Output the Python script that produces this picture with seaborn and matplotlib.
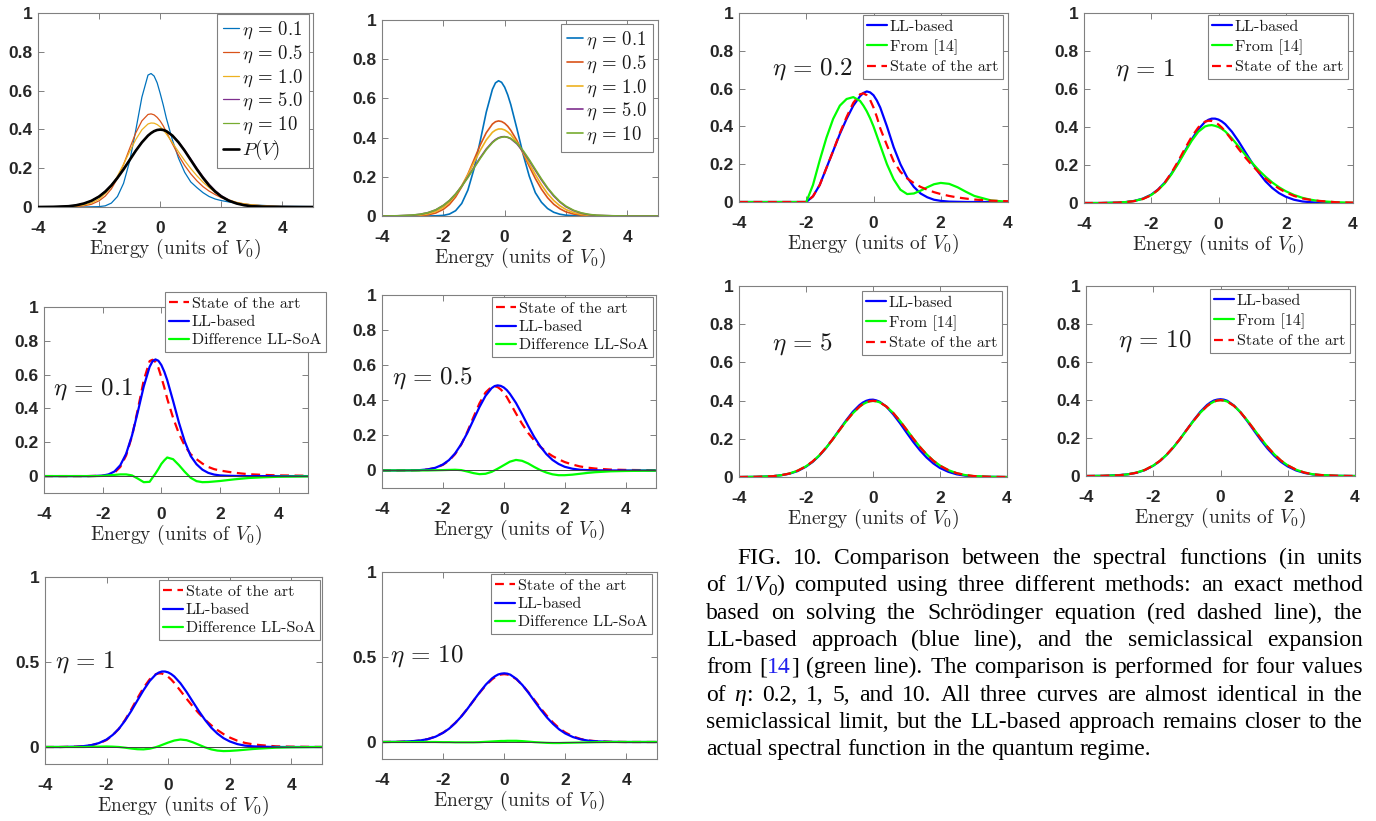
import re
import numpy as np
import pandas as pd
import matplotlib
matplotlib.use("Agg")
import matplotlib.pyplot as plt
import seaborn as sns

# ------------------------------------------------------------------ data
X = [-4.0, -3.5, -3.0, -2.75, -2.5, -2.25,
     -2.0, -1.8, -1.6, -1.4, -1.2, -1.0, -0.8, -0.6, -0.4,
     -0.3, -0.2, -0.1, 0.0, 0.1,
     0.2, 0.4, 0.6, 0.8, 1.0, 1.2, 1.4, 1.6, 1.8, 2.0,
     2.25, 2.5, 2.75, 3.0,
     3.5, 4.0, 4.5, 5.0]

PV = [0.000, 0.001, 0.004, 0.009, 0.018, 0.032,
      0.054, 0.079, 0.111, 0.150, 0.194, 0.242, 0.290, 0.333, 0.368,
      0.381, 0.391, 0.397, 0.399, 0.397,
      0.391, 0.368, 0.333, 0.290, 0.242, 0.194, 0.150, 0.111, 0.079, 0.054,
      0.032, 0.018, 0.009, 0.004,
      0.001, 0, 0, 0]

LL_01 = [0, 0, 0, 0, 0, 0.001,
         0.003, 0.010, 0.027, 0.064, 0.132, 0.240, 0.381, 0.530, 0.646,
         0.679, 0.690, 0.682, 0.657, 0.618,
         0.568, 0.445, 0.316, 0.204, 0.119, 0.070, 0.038, 0.019, 0.009, 0.004,
         0.002, 0.001, 0, 0,
         0, 0, 0, 0]
SOA_01 = [0, 0, 0, 0, 0, 0.001,
          0.002, 0.006, 0.020, 0.054, 0.122, 0.236, 0.396, 0.566, 0.680,
          0.688, 0.675, 0.640, 0.585, 0.525,
          0.458, 0.345, 0.251, 0.179, 0.129, 0.100, 0.074, 0.054, 0.041, 0.033,
          0.026, 0.020, 0.015, 0.011,
          0.007, 0.004, 0.003, 0.002]
DIFF_01 = [0, 0, 0, 0, 0, 0,
           0.001, 0.004, 0.007, 0.010, 0.010, 0.004, -0.015, -0.036, -0.034,
           -0.009, 0.015, 0.042, 0.072, 0.093,
           0.110, 0.100, 0.065, 0.025, -0.010, -0.030, -0.036, -0.035, -0.032, -0.029,
           -0.024, -0.019, -0.015, -0.011,
           -0.007, -0.004, -0.003, -0.002]

LL_05 = [0, 0, 0.001, 0.002, 0.006, 0.015,
         0.034, 0.059, 0.097, 0.149, 0.213, 0.287, 0.361, 0.425, 0.469,
         0.481, 0.485, 0.482, 0.473, 0.458,
         0.437, 0.385, 0.321, 0.254, 0.191, 0.137, 0.093, 0.060, 0.037, 0.021,
         0.010, 0.004, 0.002, 0.001,
         0, 0, 0, 0]
SOA_05 = [0, 0, 0.001, 0.002, 0.006, 0.014,
          0.032, 0.056, 0.093, 0.147, 0.219, 0.302, 0.382, 0.444, 0.477,
          0.480, 0.475, 0.462, 0.443, 0.418,
          0.387, 0.325, 0.266, 0.214, 0.171, 0.135, 0.105, 0.082, 0.064, 0.048,
          0.034, 0.023, 0.016, 0.011,
          0.005, 0.003, 0.002, 0.001]
DIFF_05 = [0, 0, 0, 0, 0, 0.001,
           0.002, 0.003, 0.004, 0.002, -0.006, -0.015, -0.021, -0.019, -0.008,
           0.001, 0.010, 0.020, 0.030, 0.040,
           0.050, 0.060, 0.055, 0.040, 0.020, 0.002, -0.012, -0.022, -0.027, -0.027,
           -0.024, -0.019, -0.014, -0.010,
           -0.005, -0.003, -0.002, -0.001]

LL_1 = [0, 0, 0.002, 0.005, 0.011, 0.023,
        0.044, 0.071, 0.107, 0.155, 0.211, 0.273, 0.334, 0.388, 0.427,
        0.438, 0.444, 0.444, 0.439, 0.429,
        0.415, 0.375, 0.324, 0.267, 0.211, 0.159, 0.114, 0.079, 0.052, 0.033,
        0.017, 0.008, 0.004, 0.002,
        0, 0, 0, 0]
SOA_1 = [0, 0, 0.002, 0.005, 0.010, 0.021,
         0.041, 0.069, 0.107, 0.159, 0.220, 0.286, 0.348, 0.398, 0.428,
         0.433, 0.432, 0.425, 0.413, 0.397,
         0.377, 0.331, 0.284, 0.239, 0.198, 0.161, 0.128, 0.100, 0.076, 0.056,
         0.037, 0.024, 0.016, 0.011,
         0.004, 0.002, 0.001, 0]
DIFF_1 = [0, 0, 0, 0, 0.001, 0.002,
          0.003, 0.002, 0.000, -0.004, -0.009, -0.013, -0.014, -0.010, -0.001,
          0.005, 0.012, 0.019, 0.026, 0.032,
          0.038, 0.044, 0.040, 0.028, 0.013, -0.002, -0.014, -0.021, -0.024, -0.023,
          -0.020, -0.016, -0.012, -0.009,
          -0.004, -0.002, -0.001, 0]
F14_1 = [0, 0, 0.002, 0.005, 0.011, 0.022,
         0.042, 0.068, 0.103, 0.151, 0.207, 0.268, 0.327, 0.375, 0.403,
         0.408, 0.410, 0.406, 0.400, 0.390,
         0.377, 0.340, 0.297, 0.253, 0.211, 0.172, 0.138, 0.108, 0.083, 0.062,
         0.042, 0.027, 0.017, 0.010,
         0.004, 0.001, 0, 0]

LL_5 = [0, 0.001, 0.004, 0.009, 0.017, 0.031,
        0.054, 0.079, 0.112, 0.152, 0.199, 0.248, 0.297, 0.342, 0.377,
        0.390, 0.399, 0.404, 0.405, 0.401,
        0.394, 0.368, 0.329, 0.283, 0.233, 0.184, 0.140, 0.102, 0.071, 0.047,
        0.027, 0.014, 0.007, 0.003,
        0.001, 0, 0, 0]
SOA_5 = [0, 0.001, 0.004, 0.009, 0.018, 0.033,
         0.056, 0.082, 0.114, 0.154, 0.198, 0.246, 0.293, 0.335, 0.369,
         0.382, 0.391, 0.397, 0.399, 0.397,
         0.391, 0.369, 0.336, 0.294, 0.248, 0.201, 0.157, 0.118, 0.085, 0.059,
         0.036, 0.020, 0.011, 0.005,
         0.001, 0, 0, 0]
F14_5 = [0, 0.001, 0.004, 0.009, 0.018, 0.033,
         0.056, 0.081, 0.114, 0.153, 0.197, 0.245, 0.292, 0.334, 0.368,
         0.381, 0.390, 0.396, 0.398, 0.396,
         0.391, 0.369, 0.336, 0.295, 0.249, 0.202, 0.158, 0.119, 0.086, 0.060,
         0.036, 0.020, 0.010, 0.005,
         0.001, 0, 0, 0]

LL_10 = [0, 0.001, 0.005, 0.009, 0.017, 0.031,
         0.054, 0.079, 0.112, 0.151, 0.196, 0.245, 0.293, 0.338, 0.374,
         0.387, 0.397, 0.402, 0.404, 0.402,
         0.396, 0.371, 0.334, 0.288, 0.238, 0.189, 0.144, 0.106, 0.074, 0.050,
         0.029, 0.016, 0.008, 0.004,
         0.001, 0, 0, 0]
SOA_10 = [0, 0.001, 0.004, 0.009, 0.017, 0.032,
          0.055, 0.080, 0.113, 0.152, 0.196, 0.244, 0.291, 0.334, 0.368,
          0.381, 0.391, 0.397, 0.399, 0.397,
          0.392, 0.369, 0.334, 0.291, 0.244, 0.197, 0.153, 0.114, 0.081, 0.056,
          0.033, 0.018, 0.009, 0.005,
          0.001, 0, 0, 0]
DIFF_10 = [0, 0, 0, 0, 0, 0,
           -0.001, -0.001, -0.002, -0.002, -0.002, -0.002, -0.001, 0.001, 0.003,
           0.004, 0.005, 0.006, 0.006, 0.007,
           0.007, 0.007, 0.005, 0.002, -0.001, -0.003, -0.005, -0.006, -0.006, -0.005,
           -0.004, -0.003, -0.002, -0.001,
           0, 0, 0, 0]
F14_10 = [0, 0.001, 0.004, 0.009, 0.018, 0.032,
          0.055, 0.080, 0.112, 0.151, 0.195, 0.243, 0.290, 0.333, 0.368,
          0.381, 0.391, 0.397, 0.399, 0.397,
          0.392, 0.370, 0.335, 0.292, 0.245, 0.198, 0.153, 0.114, 0.081, 0.056,
          0.033, 0.018, 0.009, 0.005,
          0.001, 0, 0, 0]

LL_02 = [0, 0, 0, 0, 0, 0,
         0.000, 0.030, 0.090, 0.180, 0.270, 0.360, 0.440, 0.510, 0.560,
         0.577, 0.585, 0.580, 0.565, 0.537,
         0.500, 0.400, 0.290, 0.200, 0.130, 0.080, 0.045, 0.025, 0.012, 0.006,
         0.002, 0.001, 0, 0,
         0, 0, 0, 0]
SOA_02 = [0, 0, 0, 0, 0, 0,
          0.000, 0.030, 0.090, 0.180, 0.270, 0.365, 0.450, 0.525, 0.570,
          0.575, 0.565, 0.540, 0.500, 0.450,
          0.390, 0.300, 0.215, 0.160, 0.125, 0.100, 0.080, 0.065, 0.052, 0.042,
          0.032, 0.024, 0.018, 0.013,
          0.007, 0.004, 0.002, 0.001]
F14_02 = [0, 0, 0, 0, 0, 0,
          0.000, 0.090, 0.220, 0.340, 0.440, 0.510, 0.545, 0.555, 0.535,
          0.510, 0.480, 0.443, 0.400, 0.350,
          0.300, 0.200, 0.120, 0.065, 0.042, 0.045, 0.060, 0.078, 0.094, 0.101,
          0.096, 0.078, 0.054, 0.032,
          0.008, 0.001, 0, 0]

XTICKS = [-4, -2, 0, 2, 4]
YTICKS_A = [0, 0.2, 0.4, 0.6, 0.8, 1]
YTICKS_B = [0, 0.5, 1]

ETA_LABELS_LEFT = [r"$\eta\,=\,0.1$", r"$\eta\,=\,0.5$", r"$\eta\,=\,1.0$",
                   r"$\eta\,=\,5.0$", r"$\eta\,=\,10$"]
MATLAB_COLORS = ["#0072BD", "#D95319", "#EDB120", "#7E2F8E", "#77AC30"]

CAPTION = [
    "FIG. 10. Comparison between the spectral functions (in units",
    "of 1/{i:V}{s:0}) computed using three different methods: an exact method",
    "based on solving the Schrödinger equation (red dashed line), the",
    "LL-based approach (blue line), and the semiclassical expansion",
    "from [{b:14}] (green line). The comparison is performed for four values",
    "of {i:η}: 0.2, 1, 5, and 10. All three curves are almost identical in the",
    "semiclassical limit, but the LL-based approach remains closer to the",
    "actual spectral function in the quantum regime.",
]

# ------------------------------------------------------------------ style
sns.set_style("ticks")
plt.rcParams["font.family"] = ["Liberation Sans", "DejaVu Sans"]
plt.rcParams["mathtext.fontset"] = "cm"
plt.rcParams["axes.unicode_minus"] = False

W, H = 1376, 821
fig = plt.figure(figsize=(W / 100, H / 100), dpi=100)
fig.patch.set_facecolor("white")

TXT = "#262626"
EDGE = "#808080"
CM = "cmr10"
TICK_FONT = ["Liberation Sans Narrow", "Liberation Sans", "DejaVu Sans"]
BLUE, GREEN, RED = "#0000FF", "#00FF00", "#FF0000"
DASH = (0, (4, 2.5))


def make_ax(x0, y0, x1, y1):
    return fig.add_axes([x0 / W, 1 - y1 / H, (x1 - x0) / W, (y1 - y0) / H])


def fmt(v):
    return "%g" % v


def style_ax(ax, xmax, ymin, yticks):
    ax.set_xlim(-4, xmax)
    ax.set_ylim(ymin, 1)
    ax.set_xticks(XTICKS)
    ax.set_xticklabels([fmt(v) for v in XTICKS])
    ax.set_yticks(yticks)
    ax.set_yticklabels([fmt(v) for v in yticks])
    for s in ax.spines.values():
        s.set_visible(True)
        s.set_color(EDGE)
        s.set_linewidth(0.8)
    ax.tick_params(axis="both", direction="in", length=4, width=0.7, color=EDGE,
                   labelcolor=TXT, labelsize=12.5, top=True, right=True)
    ax.tick_params(axis="x", pad=10)
    ax.tick_params(axis="y", pad=4)
    for lab in ax.get_xticklabels() + ax.get_yticklabels():
        lab.set_fontweight("bold")
        lab.set_fontfamily(TICK_FONT)
    ax.set_xlabel("Energy (units of $V_0$)", fontfamily=CM, fontsize=14,
                  color=TXT, labelpad=1)
    ax.grid(False)


def line(ax, y, color, lw, label, dashed=False, z=2):
    sns.lineplot(x=X, y=y, ax=ax, color=color, linewidth=lw, label=label,
                 estimator=None, sort=False, zorder=z)
    ln = ax.lines[-1]
    if dashed:
        ln.set_linestyle(DASH)


def legend(ax, x1, y0, fs, spacing, hl=1.25):
    h, l = ax.get_legend_handles_labels()
    leg = ax.legend(h, l, loc="upper right", bbox_to_anchor=(x1 / W, 1 - y0 / H),
                    bbox_transform=fig.transFigure, borderaxespad=0, frameon=True,
                    fancybox=False, framealpha=1, edgecolor=EDGE, handlelength=hl,
                    handletextpad=0.15, labelspacing=spacing, borderpad=0.3,
                    prop={"family": CM, "size": fs})
    leg.get_frame().set_linewidth(0.8)
    for t in leg.get_texts():
        t.set_color("#1a1a1a")
    return leg


def eta_text(x, y, s, fs):
    fig.text(x / W, 1 - y / H, s, fontsize=fs, va="center", ha="left", color="#1a1a1a")


# ------------------------------------------------------------------ panel 1 (state of the art, all eta)
ax1 = make_ax(38, 13, 313, 207)
for y, c, lab in zip([SOA_01, SOA_05, SOA_1, SOA_5, SOA_10], MATLAB_COLORS, ETA_LABELS_LEFT):
    line(ax1, y, c, 0.9, lab)
line(ax1, PV, "black", 1.9, r"$P(V)$", z=3)
style_ax(ax1, 5, 0, YTICKS_A)
legend(ax1, 309, 14, 13.5, 0.12, hl=0.9)

# ------------------------------------------------------------------ panel 2 (LL-based, all eta)
ax2 = make_ax(382, 20, 658, 216)
for y, c, lab in zip([LL_01, LL_05, LL_1, LL_5, LL_10], MATLAB_COLORS, ETA_LABELS_LEFT):
    line(ax2, y, c, 1.2, lab)
style_ax(ax2, 5, 0, YTICKS_A)
legend(ax2, 653, 24, 13.5, 0.12, hl=0.9)

# ------------------------------------------------------------------ panels 3-6 (SoA vs LL)
left_specs = [
    ((44, 307, 308, 493), SOA_01, LL_01, DIFF_01, YTICKS_A, (326, 292), (53, 389), r"$\eta\,=\,0.1$"),
    ((382, 295, 656, 488), SOA_05, LL_05, DIFF_05, YTICKS_A, (653, 297), (392, 378), r"$\eta\,=\,0.5$"),
    ((45, 577, 322, 764), SOA_1, LL_1, DIFF_1, YTICKS_B, (320, 580), (55, 662), r"$\eta\,=\,1$"),
    ((382, 572, 657, 759), SOA_10, LL_10, DIFF_10, YTICKS_B, (652, 574), (390, 656), r"$\eta\,=\,10$"),
]
for box, soa, ll, diff, yt, legpos, etapos, etalab in left_specs:
    ax = make_ax(*box)
    line(ax, soa, RED, 1.6, "State of the art", dashed=True, z=2)
    line(ax, ll, BLUE, 1.6, "LL-based", z=2.1)
    line(ax, diff, GREEN, 1.6, "Difference LL-SoA", z=2.2)
    ax.axhline(0, color="#404040", lw=0.7, zorder=2.3)
    style_ax(ax, 5, -0.1, yt)
    legend(ax, legpos[0], legpos[1], 11.5, 0.25)
    eta_text(etapos[0], etapos[1], etalab, 18)

# ------------------------------------------------------------------ panels 7-10 (LL vs [14] vs SoA)
right_specs = [
    ((739, 13, 1008, 202), LL_02, F14_02, SOA_02, (1003, 15), (772, 69), r"$\eta\,=\,0.2$"),
    ((1084, 13, 1353, 203), LL_1, F14_1, SOA_1, (1348, 15), (1115, 70), r"$\eta\,=\,1$"),
    ((739, 286, 1007, 477), LL_5, F14_5, SOA_5, (1002, 291), (772, 344), r"$\eta\,=\,5$"),
    ((1086, 286, 1355, 476), LL_10, F14_10, SOA_10, (1350, 289), (1118, 341), r"$\eta\,=\,10$"),
]
for box, ll, f14, soa, legpos, etapos, etalab in right_specs:
    ax = make_ax(*box)
    line(ax, ll, BLUE, 1.6, "LL-based", z=2)
    line(ax, f14, GREEN, 1.6, "From [14]", z=2.1)
    line(ax, soa, RED, 1.6, "State of the art", dashed=True, z=2.2)
    style_ax(ax, 4, 0, YTICKS_A)
    legend(ax, legpos[0], legpos[1], 11.5, 0.33)
    eta_text(etapos[0], etapos[1], etalab, 18)

# ------------------------------------------------------------------ caption (justified)
fig.canvas.draw()
renderer = fig.canvas.get_renderer()
CAP_FONT = "Liberation Serif"
CAP_FS = 17
CAP_X0, CAP_X1, CAP_INDENT = 706, 1363, 737
CAP_BASE0, CAP_STEP = 564, 27.3


def make_seg(txt, kind):
    kw = dict(fontfamily=CAP_FONT, fontsize=CAP_FS, color="black", va="baseline", ha="left")
    dy = 0
    if kind == "i":
        kw["fontstyle"] = "italic"
    elif kind == "s":
        kw["fontsize"] = CAP_FS * 0.72
        dy = 4
    elif kind == "b":
        kw["color"] = "#2222EE"
    t = fig.text(0, 0, txt, **kw)
    w = t.get_window_extent(renderer=renderer).width
    return t, w, dy


def parse_word(word):
    out = []
    for piece in re.split(r"(\{[ibs]:[^}]*\})", word):
        if not piece:
            continue
        m = re.match(r"\{([ibs]):([^}]*)\}", piece)
        if m:
            out.append((m.group(2), m.group(1)))
        else:
            out.append((piece, ""))
    return out


tmp_a = fig.text(0, 0, "a a", fontfamily=CAP_FONT, fontsize=CAP_FS)
tmp_b = fig.text(0, 0, "aa", fontfamily=CAP_FONT, fontsize=CAP_FS)
SPACE_W = tmp_a.get_window_extent(renderer=renderer).width - tmp_b.get_window_extent(renderer=renderer).width
tmp_a.remove()
tmp_b.remove()

for i, text_line in enumerate(CAPTION):
    base = CAP_BASE0 + i * CAP_STEP
    words = text_line.split(" ")
    objs = [[make_seg(t, k) for t, k in parse_word(w)] for w in words]
    widths = [sum(s[1] for s in o) for o in objs]
    x_start = CAP_INDENT if i == 0 else CAP_X0
    if i < len(CAPTION) - 1:
        gap = (CAP_X1 - x_start - sum(widths)) / (len(words) - 1)
        gap = max(gap, 0.45 * SPACE_W)
    else:
        gap = SPACE_W
    x = x_start
    for o in objs:
        for t, w, dy in o:
            t.set_position((x / W, 1 - (base + dy) / H))
            x += w
        x += gap

fig.savefig("out.png", dpi=100, facecolor="white")
